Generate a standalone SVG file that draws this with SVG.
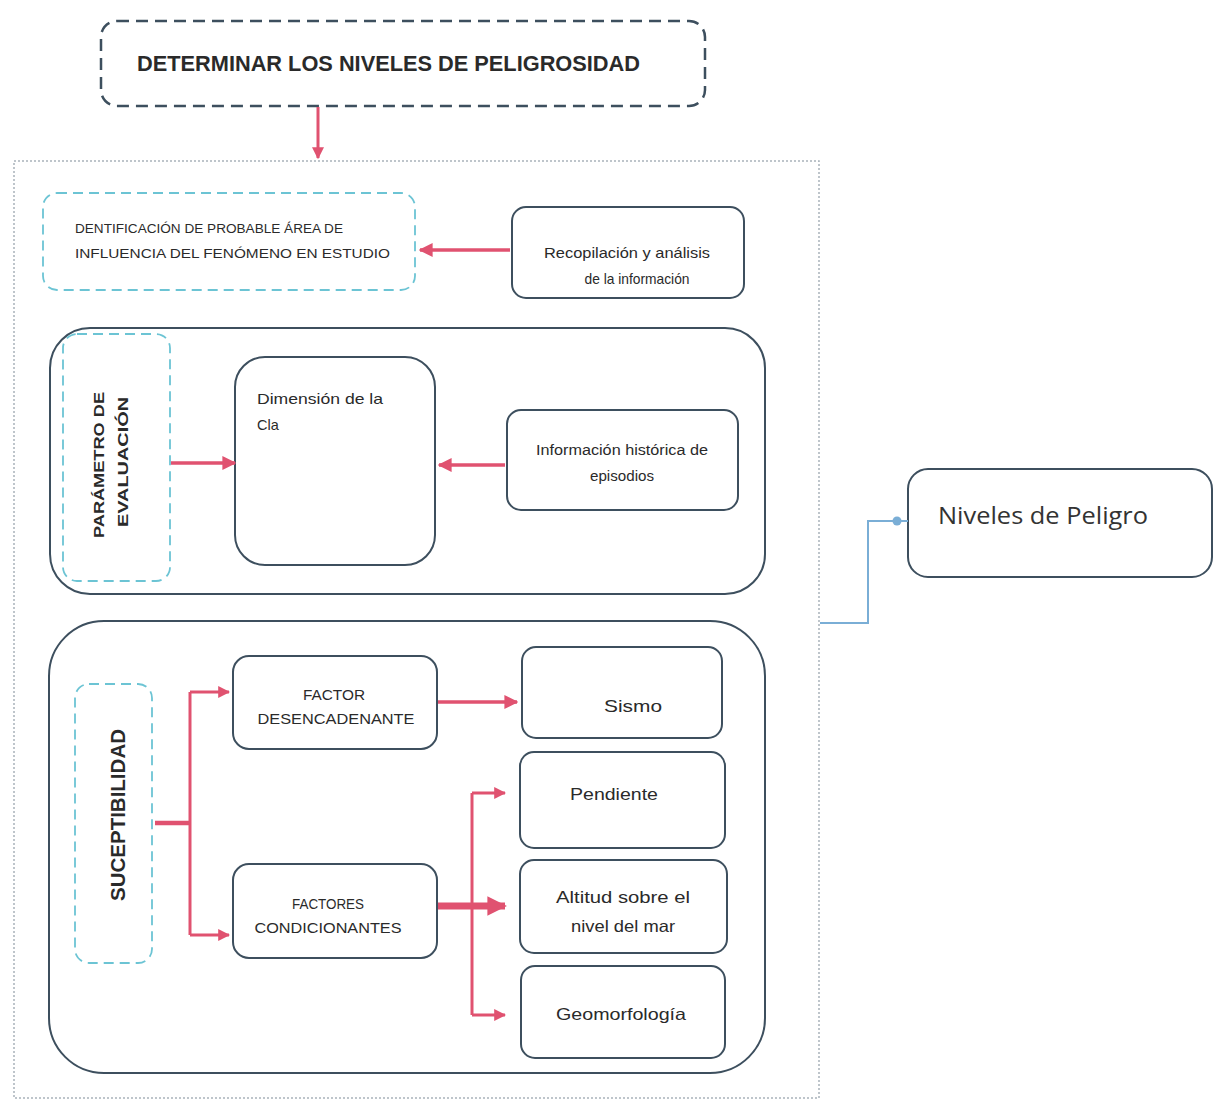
<svg xmlns="http://www.w3.org/2000/svg" width="1216" height="1106" viewBox="0 0 1216 1106">
<style>
.box{fill:#fff;stroke:#3d4f5e;stroke-width:2}
.cont{fill:none;stroke:#3d4f5e;stroke-width:2}
.dash{fill:#fff;stroke:#3d4f5e;stroke-width:2.5;stroke-dasharray:12 7}
.cyan{fill:none;stroke:#6cc4d4;stroke-width:1.8;stroke-dasharray:10 6}
.outer{fill:none;stroke:#a9b3bb;stroke-width:1.5;stroke-dasharray:2 2}
.t{font-family:"Liberation Sans",Arial,sans-serif;fill:#2a2a2a}
.red{fill:none;stroke:#e05270;stroke-width:3}
.r35{stroke-width:3.5}
.r4{stroke-width:4.5}
.r7{stroke-width:7}
.blue{fill:none;stroke:#7aaed6;stroke-width:2}
</style>
<defs>
<marker id="ah" viewBox="0 0 10 10" refX="9" refY="5" markerWidth="4" markerHeight="4" orient="auto" markerUnits="strokeWidth">
<path d="M0,0 L10,5 L0,10 z" fill="#e05270"/>
</marker>
<marker id="ahb" viewBox="0 0 10 10" refX="9" refY="5" markerWidth="2.8" markerHeight="2.8" orient="auto" markerUnits="strokeWidth">
<path d="M0,0 L10,5 L0,10 z" fill="#e05270"/>
</marker>
</defs>
<rect width="1216" height="1106" fill="#fff"/>

<g id="outer-frame"><rect class="outer" x="14" y="161" width="805" height="937"/></g>

<g id="n-title">
<rect class="dash" x="101" y="21" width="604" height="85" rx="16"/>
<text class="t" x="137" y="71" font-size="22" font-weight="bold" textLength="503" lengthAdjust="spacingAndGlyphs">DETERMINAR LOS NIVELES DE PELIGROSIDAD</text>
</g>

<g id="n-identificacion">
<rect class="cyan" x="43" y="193" width="372" height="97" rx="14"/>
<text class="t" x="75" y="233" font-size="12.5" textLength="268" lengthAdjust="spacingAndGlyphs">DENTIFICACIÓN DE PROBABLE ÁREA DE</text>
<text class="t" x="75" y="258" font-size="12.5" textLength="315" lengthAdjust="spacingAndGlyphs">INFLUENCIA DEL FENÓMENO EN ESTUDIO</text>
</g>

<g id="n-recopilacion">
<rect class="box" x="512" y="207" width="232" height="91" rx="14"/>
<text class="t" x="627" y="258" font-size="14.5" text-anchor="middle" textLength="166" lengthAdjust="spacingAndGlyphs">Recopilación y análisis</text>
<text class="t" x="637" y="284" font-size="14.5" text-anchor="middle" textLength="105" lengthAdjust="spacingAndGlyphs">de la información</text>
</g>

<g id="n-parametro-group">
<rect class="cont" x="50" y="328" width="715" height="266" rx="40"/>
</g>

<g id="n-parametro">
<rect class="cyan" x="63" y="334" width="107" height="247" rx="14"/>
<text class="t" font-size="15" font-weight="bold" text-anchor="middle" transform="translate(104,465) rotate(-90)" textLength="146" lengthAdjust="spacingAndGlyphs">PARÁMETRO DE</text>
<text class="t" font-size="15" font-weight="bold" text-anchor="middle" transform="translate(128,462) rotate(-90)" textLength="130" lengthAdjust="spacingAndGlyphs">EVALUACIÓN</text>
</g>

<g id="n-dimension">
<rect class="box" x="235" y="357" width="200" height="208" rx="30"/>
<text class="t" x="257" y="404" font-size="14.5" textLength="126" lengthAdjust="spacingAndGlyphs">Dimensión de la</text>
<text class="t" x="257" y="430" font-size="14.5">Cla</text>
</g>

<g id="n-informacion">
<rect class="box" x="507" y="410" width="231" height="100" rx="14"/>
<text class="t" x="622" y="455" font-size="14" text-anchor="middle" textLength="172" lengthAdjust="spacingAndGlyphs">Información histórica de</text>
<text class="t" x="622" y="481" font-size="14" text-anchor="middle" textLength="64" lengthAdjust="spacingAndGlyphs">episodios</text>
</g>

<g id="n-suceptibilidad-group">
<rect class="cont" x="49" y="621" width="716" height="452" rx="55"/>
</g>

<g id="n-suceptibilidad">
<rect class="cyan" x="75" y="684" width="77" height="279" rx="14"/>
<text class="t" font-size="20" font-weight="bold" text-anchor="middle" transform="translate(125,815) rotate(-90)" textLength="172" lengthAdjust="spacingAndGlyphs">SUCEPTIBILIDAD</text>
</g>

<g id="n-desencadenante">
<rect class="box" x="233" y="656" width="204" height="93" rx="16"/>
<text class="t" x="334" y="700" font-size="14" text-anchor="middle" textLength="62" lengthAdjust="spacingAndGlyphs">FACTOR</text>
<text class="t" x="336" y="724" font-size="14" text-anchor="middle" textLength="157" lengthAdjust="spacingAndGlyphs">DESENCADENANTE</text>
</g>

<g id="n-condicionantes">
<rect class="box" x="233" y="864" width="204" height="94" rx="16"/>
<text class="t" x="328" y="909" font-size="14" text-anchor="middle" textLength="72" lengthAdjust="spacingAndGlyphs">FACTORES</text>
<text class="t" x="328" y="933" font-size="14" text-anchor="middle" textLength="147" lengthAdjust="spacingAndGlyphs">CONDICIONANTES</text>
</g>

<g id="n-sismo">
<rect class="box" x="522" y="647" width="200" height="91" rx="14"/>
<text class="t" x="633" y="712" font-size="17" text-anchor="middle" textLength="58" lengthAdjust="spacingAndGlyphs">Sismo</text>
</g>

<g id="n-pendiente">
<rect class="box" x="520" y="752" width="205" height="96" rx="14"/>
<text class="t" x="614" y="800" font-size="16.5" text-anchor="middle" textLength="88" lengthAdjust="spacingAndGlyphs">Pendiente</text>
</g>

<g id="n-altitud">
<rect class="box" x="520" y="860" width="207" height="93" rx="14"/>
<text class="t" x="623" y="903" font-size="16.5" text-anchor="middle" textLength="134" lengthAdjust="spacingAndGlyphs">Altitud sobre el</text>
<text class="t" x="623" y="932" font-size="16.5" text-anchor="middle" textLength="104" lengthAdjust="spacingAndGlyphs">nivel del mar</text>
</g>

<g id="n-geomorfologia">
<rect class="box" x="521" y="966" width="204" height="92" rx="14"/>
<text class="t" x="621" y="1020" font-size="16.5" text-anchor="middle" textLength="130" lengthAdjust="spacingAndGlyphs">Geomorfología</text>
</g>

<g id="n-niveles">
<rect class="box" x="908" y="469" width="304" height="108" rx="20"/>
<text x="938" y="524" font-family="'Open Sans','Noto Sans',sans-serif" font-size="23" fill="#333" textLength="210" lengthAdjust="spacingAndGlyphs">Niveles de Peligro</text>
</g>

<g id="connectors">
<path class="red" d="M318,107 V158" marker-end="url(#ah)"/>
<path class="red r35" d="M510,250 H420" marker-end="url(#ah)"/>
<path class="red r35" d="M171,463 H235" marker-end="url(#ah)"/>
<path class="red r35" d="M505,465 H439" marker-end="url(#ah)"/>
<path class="red r4" d="M155,823 H190"/>
<path class="red" d="M190,692 V935"/>
<path class="red" d="M190,692 H229" marker-end="url(#ah)"/>
<path class="red" d="M190,935 H229" marker-end="url(#ah)"/>
<path class="red r35" d="M438,702 H517" marker-end="url(#ah)"/>
<path class="red r7" d="M438,906 H505" marker-end="url(#ahb)"/>
<path class="red" d="M472,793 V1015"/>
<path class="red" d="M472,793 H505" marker-end="url(#ah)"/>
<path class="red" d="M472,1015 H505" marker-end="url(#ah)"/>
<path class="blue" d="M820,623 H868 V521 H908"/>
<circle cx="897" cy="521" r="4.5" fill="#7aaed6"/>
</g>
</svg>
